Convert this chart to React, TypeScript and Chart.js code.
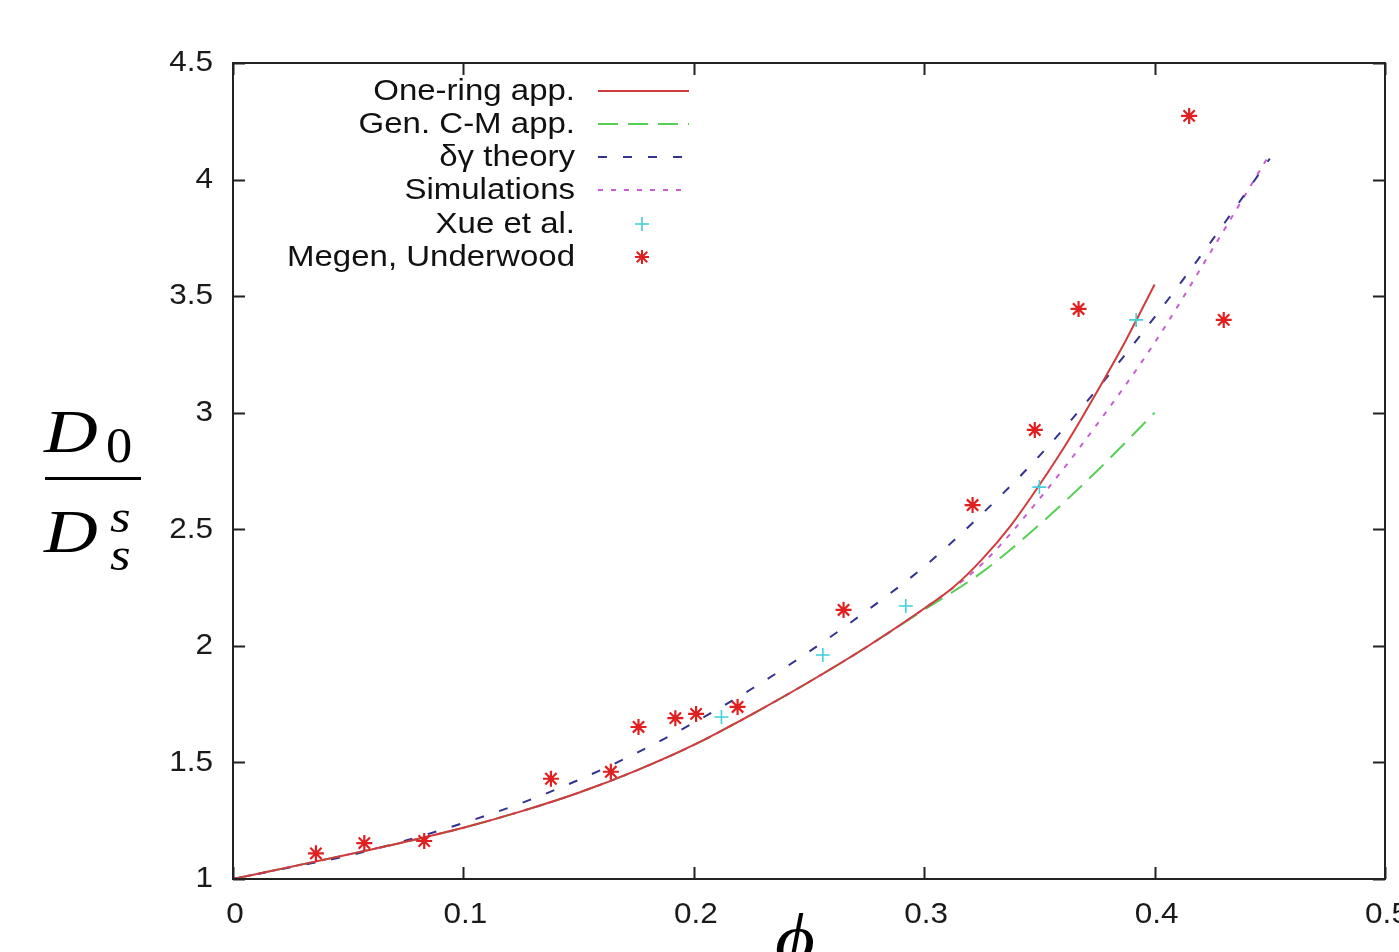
import React, { useEffect, useRef } from "react";
import { Chart, registerables } from "chart.js";
Chart.register(...registerables);

// ---------- data ----------
const xTicks = [0, 0.1, 0.2, 0.3, 0.4, 0.5];
const xTickLabels = ["0", "0.1", "0.2", "0.3", "0.4", "0.5"];
const yTicks = [1, 1.5, 2, 2.5, 3, 3.5, 4, 4.5];
const yTickLabels = ["1", "1.5", "2", "2.5", "3", "3.5", "4", "4.5"];

const phiOneRing = [0, 0.025, 0.05, 0.075, 0.1, 0.125, 0.15, 0.175, 0.2, 0.225, 0.25, 0.275, 0.3, 0.3125, 0.325, 0.3375, 0.35, 0.3625, 0.375, 0.3875, 0.4];
const oneRing = [1.0, 1.052, 1.105, 1.16, 1.22, 1.29, 1.37, 1.465, 1.575, 1.705, 1.845, 1.995, 2.16, 2.25, 2.37, 2.515, 2.69, 2.88, 3.09, 3.31, 3.55];

const phiGenCM = [0, 0.025, 0.05, 0.075, 0.1, 0.125, 0.15, 0.175, 0.2, 0.225, 0.25, 0.275, 0.3, 0.325, 0.35, 0.375, 0.4];
const genCM = [1.0, 1.052, 1.105, 1.16, 1.22, 1.29, 1.37, 1.465, 1.575, 1.705, 1.845, 1.995, 2.155, 2.315, 2.52, 2.75, 3.0];

const phiLong = [0, 0.025, 0.05, 0.075, 0.1, 0.125, 0.15, 0.175, 0.2, 0.225, 0.25, 0.275, 0.3, 0.325, 0.35, 0.375, 0.4, 0.425, 0.45];
const deltaGamma = [1.0, 1.05, 1.1, 1.165, 1.24, 1.325, 1.425, 1.54, 1.67, 1.815, 1.975, 2.15, 2.34, 2.565, 2.815, 3.1, 3.41, 3.74, 4.09];
const simulations = [1.0, 1.052, 1.105, 1.16, 1.22, 1.29, 1.37, 1.465, 1.575, 1.705, 1.845, 1.995, 2.16, 2.35, 2.63, 2.95, 3.3, 3.7, 4.11];

const xuePhi = [0.212, 0.256, 0.292, 0.35, 0.392];
const xueVal = [1.695, 1.961, 2.171, 2.681, 3.398];

const megenPhi = [0.036, 0.057, 0.083, 0.138, 0.164, 0.176, 0.192, 0.201, 0.219, 0.265, 0.321, 0.348, 0.367, 0.415, 0.43];
const megenVal = [1.11, 1.154, 1.163, 1.43, 1.46, 1.652, 1.69, 1.708, 1.738, 2.154, 2.604, 2.926, 3.445, 4.273, 3.398];

const legendLabels = ["One-ring app.", "Gen. C-M app.", "δγ theory", "Simulations", "Xue et al.", "Megen, Underwood"];

const RED = "#d03c3c";
const GREEN = "#55d055";
const BLUE = "#33338f";
const MAGENTA = "#c660d0";
const CYAN = "#40d0d8";
const STAR = "#e02020";

const pts = (xs: number[], ys: number[]) => xs.map((x, i) => ({ x, y: ys[i] }));

const SANS = '"Liberation Sans", Arial, Helvetica, sans-serif';
const SERIF = '"Liberation Serif", "DejaVu Serif", serif';

function stretchText(ctx: CanvasRenderingContext2D, text: string, x: number, y: number, font: string, align: CanvasTextAlign, sx: number, baseline: CanvasTextBaseline = "middle") {
  ctx.save();
  ctx.translate(x, y);
  ctx.scale(sx, 1);
  ctx.font = font;
  ctx.textAlign = align;
  ctx.textBaseline = baseline;
  ctx.fillText(text, 0, 0);
  ctx.restore();
}

const decorPlugin = {
  id: "decor",
  afterDraw(chart: any) {
    const ctx: CanvasRenderingContext2D = chart.ctx;
    const a = chart.chartArea;
    const xs = chart.scales.x;
    const ys = chart.scales.y;
    ctx.save();
    // frame
    ctx.strokeStyle = "#222";
    ctx.lineWidth = 2;
    ctx.strokeRect(a.left, a.top, a.right - a.left, a.bottom - a.top);
    // ticks
    const tl = 12;
    ctx.beginPath();
    xTicks.forEach((v) => {
      const px = Math.round(xs.getPixelForValue(v)) + 0.5;
      ctx.moveTo(px, a.bottom);
      ctx.lineTo(px, a.bottom - tl);
      ctx.moveTo(px, a.top);
      ctx.lineTo(px, a.top + tl);
    });
    yTicks.forEach((v) => {
      const py = Math.round(ys.getPixelForValue(v)) + 0.5;
      ctx.moveTo(a.left, py);
      ctx.lineTo(a.left + tl, py);
      ctx.moveTo(a.right, py);
      ctx.lineTo(a.right - tl, py);
    });
    ctx.stroke();
    // tick labels
    ctx.fillStyle = "#1a1a1a";
    xTicks.forEach((v, i) => {
      stretchText(ctx, xTickLabels[i], xs.getPixelForValue(v) + 2, a.bottom + 36, `30px ${SANS}`, "center", 1.05);
    });
    yTicks.forEach((v, i) => {
      stretchText(ctx, yTickLabels[i], a.left - 20, ys.getPixelForValue(v), `30px ${SANS}`, "right", 1.05);
    });
    // legend
    const rowY = [91, 124, 157, 190, 224, 257];
    const lx0 = 598, lx1 = 689, mx = 642, textRight = 575;
    const styles = [
      { c: RED, d: [] as number[] },
      { c: GREEN, d: [20, 10] },
      { c: BLUE, d: [9, 16] },
      { c: MAGENTA, d: [5, 8] },
    ];
    legendLabels.forEach((lab, i) => {
      ctx.fillStyle = "#111";
      stretchText(ctx, lab, textRight, rowY[i] + 1, `30px ${SANS}`, "right", 1.1);
    });
    styles.forEach((s, i) => {
      ctx.save();
      ctx.strokeStyle = s.c;
      ctx.lineWidth = 2;
      ctx.setLineDash(s.d);
      ctx.beginPath();
      ctx.moveTo(lx0, rowY[i]);
      ctx.lineTo(lx1, rowY[i]);
      ctx.stroke();
      ctx.restore();
    });
    // xue cross
    ctx.save();
    ctx.strokeStyle = CYAN;
    ctx.lineWidth = 1.6;
    ctx.beginPath();
    ctx.moveTo(mx - 7, rowY[4]);
    ctx.lineTo(mx + 7, rowY[4]);
    ctx.moveTo(mx, rowY[4] - 7);
    ctx.lineTo(mx, rowY[4] + 7);
    ctx.stroke();
    // megen star
    ctx.strokeStyle = STAR;
    ctx.lineWidth = 2;
    const r = 7;
    ctx.beginPath();
    ctx.moveTo(mx - r, rowY[5]);
    ctx.lineTo(mx + r, rowY[5]);
    ctx.moveTo(mx, rowY[5] - r);
    ctx.lineTo(mx, rowY[5] + r);
    ctx.moveTo(mx - r * 0.75, rowY[5] - r * 0.75);
    ctx.lineTo(mx + r * 0.75, rowY[5] + r * 0.75);
    ctx.moveTo(mx - r * 0.75, rowY[5] + r * 0.75);
    ctx.lineTo(mx + r * 0.75, rowY[5] - r * 0.75);
    ctx.stroke();
    ctx.restore();

    // y axis title: D0 / D_s^s
    ctx.fillStyle = "#000";
    stretchText(ctx, "D", 44, 452, `italic 62px ${SERIF}`, "left", 1.2, "alphabetic");
    stretchText(ctx, "0", 106, 462, `50px ${SERIF}`, "left", 1.05, "alphabetic");
    ctx.fillRect(45, 477, 96, 3);
    stretchText(ctx, "D", 44, 552, `italic 62px ${SERIF}`, "left", 1.2, "alphabetic");
    stretchText(ctx, "s", 110, 532, `italic 46px ${SERIF}`, "left", 1.15, "alphabetic");
    stretchText(ctx, "s", 110, 570, `italic 46px ${SERIF}`, "left", 1.15, "alphabetic");
    // x axis title
    stretchText(ctx, "ϕ", 795, 962, `italic 70px ${SERIF}`, "center", 1.1, "alphabetic");
    ctx.restore();
  },
};

export default function App() {
  const ref = useRef<HTMLCanvasElement | null>(null);
  useEffect(() => {
    if (!ref.current) return;
    const lineBase = { showLine: true, pointRadius: 0, borderWidth: 2, fill: false, cubicInterpolationMode: "monotone" as const };
    const chart = new Chart(ref.current, {
      type: "scatter",
      data: {
        datasets: [
          { label: legendLabels[5], data: pts(megenPhi, megenVal), pointStyle: "star", pointRadius: 8, pointBorderWidth: 2.2, borderColor: STAR, backgroundColor: STAR, showLine: false },
          { label: legendLabels[4], data: pts(xuePhi, xueVal), pointStyle: "cross", pointRadius: 7, pointBorderWidth: 1.6, borderColor: CYAN, backgroundColor: CYAN, showLine: false },
          { ...lineBase, label: legendLabels[0], data: pts(phiOneRing, oneRing), borderColor: RED },
          { ...lineBase, label: legendLabels[2], data: pts(phiLong, deltaGamma), borderColor: BLUE, borderDash: [9, 16] },
          { ...lineBase, label: legendLabels[3], data: pts(phiLong, simulations), borderColor: MAGENTA, borderDash: [5, 8] },
          { ...lineBase, label: legendLabels[1], data: pts(phiGenCM, genCM), borderColor: GREEN, borderDash: [20, 10] },
        ] as any,
      },
      options: {
        responsive: false,
        maintainAspectRatio: false,
        animation: false,
        devicePixelRatio: 1,
        layout: { padding: { top: 63, right: 14, left: 0, bottom: 0 } },
        plugins: { legend: { display: false }, tooltip: { enabled: false } },
        scales: {
          x: {
            type: "linear", min: 0, max: 0.5,
            ticks: { display: false }, grid: { display: false }, border: { display: false },
            afterFit: (s: any) => { s.height = 73; },
          },
          y: {
            type: "linear", min: 1, max: 4.5,
            ticks: { display: false }, grid: { display: false }, border: { display: false },
            afterFit: (s: any) => { s.width = 233; },
          },
        },
      } as any,
      plugins: [decorPlugin],
    });
    return () => chart.destroy();
  }, []);
  return (
    <div style={{ position: "fixed", left: 0, top: 0, width: 1399, height: 952, background: "#fff" }}>
      <canvas ref={ref} width={1399} height={952} style={{ display: "block" }} />
    </div>
  );
}
